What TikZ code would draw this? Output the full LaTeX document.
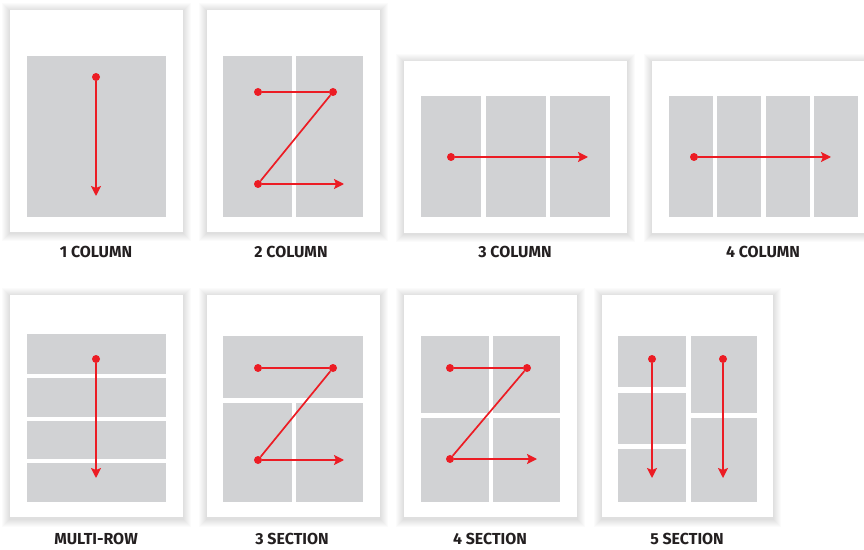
\documentclass[tikz,border=0pt]{standalone}
\usepackage{fontspec}
\setmainfont{Fira Sans}
\usetikzlibrary{arrows.meta}
\definecolor{pageRed}{HTML}{EC1C24}
\definecolor{pageGray}{HTML}{D1D2D4}
\definecolor{pageInk}{HTML}{231F20}
\newcommand{\pCard}[4]{%
  \foreach \s in {1,...,8}{\fill[black, opacity=0.014] (#1-\s,#2-\s+1.5) rectangle (#3+\s,#4+\s+1.5);}%
  \fill[white] (#1,#2) rectangle (#3,#4);}
\tikzset{
  block/.style={fill=pageGray},
  zline/.style={draw=pageRed, line width=1.7bp},
  flow/.style={zline, -{Stealth[length=10bp,width=10bp,inset=2bp]}},
  dot/.style={circle, fill=pageRed, inner sep=0pt, minimum size=8bp},
  caption/.style={anchor=base, inner sep=0pt, text=pageInk, font=\bfseries\fontsize{16}{19}\selectfont}
}

\begin{document}
\begin{tikzpicture}[x=1bp,y=-1bp]
\clip (0,0) rectangle (864,550);
\fill[white] (0,0) rectangle (864,550);

\pCard{10}{10}{183}{232}
\fill[block] (27,56) rectangle (166,217);
\node[dot] (oneA) at (96,77) {};
\coordinate (oneE) at (96,196);
\draw[flow] (oneA) -- (oneE);
\node[caption] (oneLabel) at (96,258) {1 COLUMN};

\pCard{207}{10}{380}{232}
\fill[block] (223,56) rectangle (292,217);
\fill[block] (296,56) rectangle (363,217);
\node[dot] (twoA) at (258,92) {};
\node[dot] (twoB) at (333,92) {};
\node[dot] (twoC) at (258,184) {};
\coordinate (twoE) at (344,184);
\draw[zline] (twoA) -- (twoB) -- (twoC);
\draw[flow] (twoC) -- (twoE);
\node[caption] (twoLabel) at (291,258) {2 COLUMN};

\pCard{404}{61}{627}{233}
\foreach \x in {421,486,550}
  \fill[block] (\x,96) rectangle ++(60,121);
\node[dot] (threeA) at (451,157) {};
\coordinate (threeE) at (588,157);
\draw[flow] (threeA) -- (threeE);
\node[caption] (threeLabel) at (515,258) {3 COLUMN};

\pCard{652}{61}{876}{233}
\foreach \x in {669,717,766,814}
  \fill[block] (\x,96) rectangle ++(44,121);
\node[dot] (fourA) at (694,157) {};
\coordinate (fourE) at (831,157);
\draw[flow] (fourA) -- (fourE);
\node[caption] (fourLabel) at (763,258) {4 COLUMN};

\pCard{10}{295}{183}{517}
\fill[block] (27,334) rectangle (166,374);
\fill[block] (27,378) rectangle (166,417);
\fill[block] (27,421) rectangle (166,459);
\fill[block] (27,463) rectangle (166,502);
\node[dot] (rowA) at (96,359) {};
\coordinate (rowE) at (96,478);
\draw[flow] (rowA) -- (rowE);
\node[caption] (rowLabel) at (96,544) {MULTI-ROW};

\pCard{207}{295}{380}{517}
\fill[block] (223,336) rectangle (363,398);
\fill[block] (223,403) rectangle (292,502);
\fill[block] (296,403) rectangle (363,502);
\node[dot] (secThreeA) at (258,368) {};
\node[dot] (secThreeB) at (333,368) {};
\node[dot] (secThreeC) at (258,460) {};
\coordinate (secThreeE) at (344,460);
\draw[zline] (secThreeA) -- (secThreeB) -- (secThreeC);
\draw[flow] (secThreeC) -- (secThreeE);
\node[caption] (secThreeLabel) at (292,544) {3 SECTION};

\pCard{404}{295}{577}{517}
\fill[block] (421,336) rectangle (489,413);
\fill[block] (493,336) rectangle (560,413);
\fill[block] (421,418) rectangle (489,502);
\fill[block] (493,418) rectangle (560,502);
\node[dot] (secFourA) at (450,368) {};
\node[dot] (secFourB) at (527,368) {};
\node[dot] (secFourC) at (450,459) {};
\coordinate (secFourE) at (537,459);
\draw[zline] (secFourA) -- (secFourB) -- (secFourC);
\draw[flow] (secFourC) -- (secFourE);
\node[caption] (secFourLabel) at (490,544) {4 SECTION};

\pCard{602}{295}{773}{517}
\fill[block] (618,336) rectangle (686,387);
\fill[block] (618,393) rectangle (686,444);
\fill[block] (618,449) rectangle (686,502);
\fill[block] (691,336) rectangle (757,413);
\fill[block] (691,418) rectangle (757,502);
\node[dot] (secFiveA) at (652,359) {};
\node[dot] (secFiveB) at (723,359) {};
\coordinate (secFiveE) at (652,478);
\coordinate (secFiveF) at (723,478);
\draw[flow] (secFiveA) -- (secFiveE);
\draw[flow] (secFiveB) -- (secFiveF);
\node[caption] (secFiveLabel) at (687,544) {5 SECTION};
\end{tikzpicture}
\end{document}
